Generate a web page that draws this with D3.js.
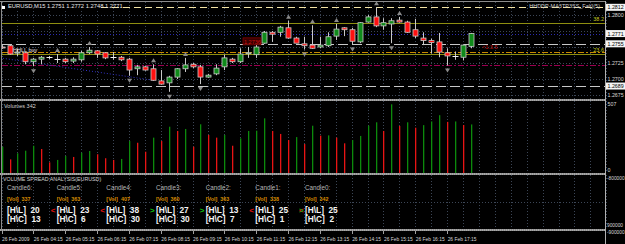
<!DOCTYPE html>
<html>
<head>
<meta charset="utf-8">
<script src="https://cdn.jsdelivr.net/npm/d3@7"></script>
<style>
body { margin: 0; background: #000; overflow: hidden; }
svg text { font-family: "Liberation Sans", Arial, sans-serif; }
</style>
</head>
<body>
<div id="chart"></div>
<script>
// *********************************************
// DATA  (EURUSD M15, bars from 03:15 to 18:00)
// *********************************************
var firstBar = -1;
var barOpen = [1.2750,1.2752,1.2741,1.2741,1.2727,1.2731,1.2734,1.2731,1.2731,1.2728,1.2730,1.2741,1.2744,1.2741,1.2734,1.2734,1.2731,1.2716,1.2719,1.2716,1.2697,1.2694,1.2703,1.2716,1.2723,1.2719,1.2703,1.2708,1.2719,1.2731,1.2727,1.2740,1.2738,1.2756,1.2773,1.2773,1.2780,1.2764,1.2755,1.2753,1.2750,1.2752,1.2767,1.2780,1.2777,1.2758,1.2789,1.2797,1.2783,1.2786,1.2792,1.2789,1.2777,1.2764,1.2760,1.2758,1.2741,1.2736,1.2734,1.2751];
var barHigh = [1.2753,1.2753,1.2747,1.2742,1.2733,1.2736,1.2736,1.2739,1.2733,1.2734,1.2744,1.2750,1.2745,1.2742,1.2742,1.2736,1.2733,1.2722,1.2720,1.2723,1.2714,1.2705,1.2717,1.2733,1.2725,1.2722,1.2708,1.2723,1.2738,1.2733,1.2748,1.2750,1.2756,1.2775,1.2775,1.2783,1.2791,1.2766,1.2766,1.2784,1.2766,1.2773,1.2786,1.2781,1.2780,1.2789,1.2800,1.2812,1.2795,1.2795,1.2797,1.2791,1.2794,1.2773,1.2763,1.2772,1.2748,1.2743,1.2754,1.2772];
var barLow = [1.2747,1.2738,1.2736,1.2723,1.2720,1.2723,1.2731,1.2725,1.2725,1.2725,1.2727,1.2739,1.2733,1.2731,1.2730,1.2728,1.2705,1.2706,1.2713,1.2697,1.2691,1.2680,1.2700,1.2711,1.2717,1.2692,1.2702,1.2706,1.2714,1.2725,1.2725,1.2733,1.2733,1.2755,1.2758,1.2766,1.2763,1.2756,1.2746,1.2747,1.2748,1.2750,1.2761,1.2767,1.2754,1.2756,1.2788,1.2781,1.2777,1.2756,1.2788,1.2772,1.2764,1.2753,1.2740,1.2734,1.2721,1.2730,1.2729,1.2748];
var barClose = [1.2749,1.2739,1.2742,1.2727,1.2731,1.2734,1.2734,1.2731,1.2727,1.2731,1.2741,1.2745,1.2739,1.2733,1.2734,1.2730,1.2714,1.2719,1.2714,1.2698,1.2692,1.2703,1.2716,1.2722,1.2719,1.2703,1.2706,1.2717,1.2733,1.2727,1.2739,1.2741,1.2750,1.2773,1.2770,1.2781,1.2764,1.2756,1.2752,1.2748,1.2753,1.2766,1.2778,1.2777,1.2759,1.2788,1.2797,1.2783,1.2788,1.2791,1.2789,1.2773,1.2767,1.2760,1.2757,1.2742,1.2736,1.2736,1.2753,1.2771];
var barVolume = [185,96,139,157,192,169,75,92,120,113,143,155,132,104,92,99,225,213,150,249,225,326,296,310,185,343,268,249,268,192,244,296,298,385,296,275,232,253,204,333,263,265,249,209,232,261,333,357,296,484,331,357,319,337,363,407,360,363,338,342];

// bar indices carrying fractal arrows
var fractalUp = [6,10,18,22,35,38,41,46,49];
var fractalDown = [3,15,20,24,37,43,48,55];

// horizontal line objects on the price pane
var levelPrices = [1.2812, 1.2788, 1.2771, 1.2755, 1.2742, 1.2739, 1.2722, 1.2689];
var levelKinds  = ["hiline", "fib", "bid", "dash", "dashdot", "fib", "dashdot2", "dash"];
var fibPrices = [1.2788, 1.2739];
var fibLabels = ["38.2", "23.6"];

// dotted trend line (bar, price)
var trendBars = [-1.2, 18.1];
var trendPrices = [1.2733, 1.2698];

// price axis
var gridPrices = [1.2800, 1.2775, 1.2750, 1.2725, 1.2700, 1.2675];
var axisPrices = [1.2800, 1.2725, 1.2700, 1.2675];
var boxedPrices = [1.2812, 1.2771, 1.2755, 1.2689];

// time axis
var timeBars = [-1,3,7,11,15,19,23,27,31,35,39,43,47,51,55];
var timeLabels = ["26 Feb 2009","26 Feb 04:15","26 Feb 05:15","26 Feb 06:15","26 Feb 07:15","26 Feb 08:15","26 Feb 09:15","26 Feb 10:15","26 Feb 11:15","26 Feb 12:15","26 Feb 13:15","26 Feb 14:15","26 Feb 15:15","26 Feb 16:15","26 Feb 17:15"];

// volume spread analysis table
var vsaCandles = ["Candle6:","Candle5:","Candle4:","Candle3:","Candle2:","Candle1:","Candle0:"];
var vsaVol = [337, 363, 407, 360, 363, 338, 342];
var vsaHL = [20, 23, 38, 27, 13, 25, 25];
var vsaHC = [13, 6, 30, 30, 7, 1, 2];
var vsaSign = ["", "<", "<", ">", ">", "<", "x"];

var volumeMax = 507;
var vsaAxis = ["-800000", "900000", "-900000"];

// *********************************************
// SETUP
// *********************************************
var width = 625, height = 244;
var left = 2, right = 605;
var pane = {
  main: {top: 2, bottom: 99},
  vol: {top: 101, bottom: 173},
  vsa: {top: 175, bottom: 229}
};

var svg = d3.select("#chart").append("svg")
    .attr("width", width)
    .attr("height", height)
    .style("background", "#000");

var x = d3.scaleLinear().domain([0, 58]).range([9.5, 471]);
var y = d3.scaleLinear().domain([1.27, 1.28]).range([79, 15]);
var yVol = d3.scaleLinear().domain([0, volumeMax]).range([pane.vol.bottom, pane.vol.top]);

var bars = d3.range(barOpen.length).map(function(i) {
  return {i: i + firstBar, o: barOpen[i], h: barHigh[i], l: barLow[i], c: barClose[i],
          v: barVolume[i], vUp: i === 0 || barVolume[i] > barVolume[i - 1]};
});
var byIndex = {};
bars.forEach(function(d) { byIndex[d.i] = d; });

var defs = svg.append("defs");
["main", "vol", "vsa"].forEach(function(k) {
  defs.append("clipPath").attr("id", "clip-" + k).append("rect")
    .attr("x", left).attr("y", pane[k].top)
    .attr("width", right - left).attr("height", pane[k].bottom - pane[k].top);
});

// *********************************************
// GRID
// *********************************************
var gridColor = "#3c4656";
var gridBars = d3.range(-1, 76, 2);

function drawVGrid(k) {
  svg.append("g").selectAll("line").data(gridBars).enter().append("line")
    .attr("x1", function(d) { return Math.round(x(d)) + 0.5; })
    .attr("x2", function(d) { return Math.round(x(d)) + 0.5; })
    .attr("y1", pane[k].top).attr("y2", pane[k].bottom)
    .attr("stroke", gridColor).attr("stroke-dasharray", "1,2");
}
drawVGrid("main"); drawVGrid("vol"); drawVGrid("vsa");

svg.append("g").selectAll("line").data(gridPrices).enter().append("line")
  .attr("x1", left).attr("x2", right)
  .attr("y1", function(d) { return Math.round(y(d)) + 0.5; })
  .attr("y2", function(d) { return Math.round(y(d)) + 0.5; })
  .attr("stroke", gridColor).attr("stroke-dasharray", "1,2");

svg.append("line").attr("x1", left).attr("x2", right)
  .attr("y1", 202.5).attr("y2", 202.5)
  .attr("stroke", gridColor).attr("stroke-dasharray", "1,2");

// *********************************************
// PRICE PANE
// *********************************************
var main = svg.append("g").attr("clip-path", "url(#clip-main)");

var levelStyle = {
  hiline:   {stroke: "#f3e3a4", dash: "7,4"},
  fib:      {stroke: "#8f8f10", dash: null},
  bid:      {stroke: "#2a2ab0", dash: "1,2"},
  dash:     {stroke: "#c8c8c8", dash: "10,4"},
  dashdot:  {stroke: "#c98a00", dash: "6,2,2,2"},
  dashdot2: {stroke: "#9a0050", dash: "6,2,2,2"}
};

main.append("g").selectAll("line").data(levelPrices).enter().append("line")
  .attr("x1", left).attr("x2", right)
  .attr("y1", function(d) { return Math.round(y(d)) + 0.5; })
  .attr("y2", function(d) { return Math.round(y(d)) + 0.5; })
  .attr("stroke", function(d, i) { return levelStyle[levelKinds[i]].stroke; })
  .attr("stroke-dasharray", function(d, i) { return levelStyle[levelKinds[i]].dash; });

main.append("g").selectAll("text").data(fibPrices).enter().append("text")
  .attr("x", 604).attr("y", function(d) { return y(d) - 2; })
  .attr("text-anchor", "end").attr("font-size", 5.5).attr("fill", "#c8c820")
  .text(function(d, i) { return fibLabels[i]; });

// trend line
main.append("line")
  .attr("x1", x(trendBars[0])).attr("y1", y(trendPrices[0]))
  .attr("x2", x(trendBars[1])).attr("y2", y(trendPrices[1]))
  .attr("stroke", "#3333c8").attr("stroke-dasharray", "1,2");

// candles
var wickColor = "#c8c8c8";
var candle = main.append("g").selectAll("g").data(bars).enter().append("g");

candle.append("line")
  .attr("x1", function(d) { return Math.round(x(d.i)) + 0.5; })
  .attr("x2", function(d) { return Math.round(x(d.i)) + 0.5; })
  .attr("y1", function(d) { return y(d.h); })
  .attr("y2", function(d) { return y(d.l); })
  .attr("stroke", wickColor);

candle.filter(function(d) { return d.o !== d.c; }).append("rect")
  .attr("x", function(d) { return Math.round(x(d.i)) - 2; })
  .attr("width", 5)
  .attr("y", function(d) { return y(Math.max(d.o, d.c)); })
  .attr("height", function(d) { return Math.max(1, y(Math.min(d.o, d.c)) - y(Math.max(d.o, d.c))); })
  .attr("fill", function(d) { return d.c > d.o ? "#0f8a1a" : "#ff1010"; })
  .attr("stroke", wickColor).attr("stroke-width", 0.8);

candle.filter(function(d) { return d.o === d.c; }).append("line")
  .attr("x1", function(d) { return Math.round(x(d.i)) - 2.5; })
  .attr("x2", function(d) { return Math.round(x(d.i)) + 3.5; })
  .attr("y1", function(d) { return Math.round(y(d.c)) + 0.5; })
  .attr("y2", function(d) { return Math.round(y(d.c)) + 0.5; })
  .attr("stroke", "#f0f0f0");

// fractal arrows
function arrow(cx, cy, up) {
  return up ? "M" + (cx - 2.5) + "," + (cy + 2) + "L" + cx + "," + (cy - 2) + "L" + (cx + 2.5) + "," + (cy + 2) + "Z"
            : "M" + (cx - 2.5) + "," + (cy - 2) + "L" + cx + "," + (cy + 2) + "L" + (cx + 2.5) + "," + (cy - 2) + "Z";
}
main.append("g").selectAll("path.up").data(fractalUp).enter().append("path")
  .attr("d", function(d) { return arrow(Math.round(x(d)) + 0.5, y(byIndex[d].h) - 4, true); })
  .attr("fill", "#8a8a8a");
main.append("g").selectAll("path.dn").data(fractalDown).enter().append("path")
  .attr("d", function(d) { return arrow(Math.round(x(d)) + 0.5, y(byIndex[d].l) + 5, false); })
  .attr("fill", "#8a8a8a");

// chart object labels
main.append("text").attr("x", 13).attr("y", y(1.2745) + 2)
  .attr("font-size", 5.5).attr("fill", "#e0e0e0").text("HHLL buy");
main.append("rect").attr("x", 243).attr("y", y(1.2758) - 4).attr("width", 18).attr("height", 7)
  .attr("fill", "#3a0000").attr("stroke", "#a00000").attr("stroke-width", 0.6);
main.append("text").attr("x", 244).attr("y", y(1.2758) + 2)
  .attr("font-size", 5.5).attr("fill", "#d01010").text("1.2736");
main.append("text").attr("x", 482).attr("y", y(1.2750) + 2)
  .attr("font-size", 5.5).attr("fill", "#c01010").text("<1:3.5");

// title
svg.append("rect").attr("x", 3).attr("y", 2).attr("width", 95).attr("height", 7).attr("fill", "#000");
svg.append("text").attr("x", 8).attr("y", 7.5).attr("font-size", 5.8).attr("fill", "#e8e8e8")
  .text("EURUSD,M15  1.2751 1.2772 1.2748 1.2771");
svg.append("rect").attr("x", 2).attr("y", 6).attr("width", 3).attr("height", 3).attr("fill", "#fff");
svg.append("text").attr("x", 600).attr("y", 7.5).attr("text-anchor", "end")
  .attr("font-size", 5.5).attr("fill", "#d0d0d0").text("HHDDP-MA3TP3SS_Fal(|(5)");

// *********************************************
// VOLUME PANE
// *********************************************
var vol = svg.append("g").attr("clip-path", "url(#clip-vol)");
vol.selectAll("rect").data(bars).enter().append("rect")
  .attr("x", function(d) { return Math.round(x(d.i)); })
  .attr("width", 1.3)
  .attr("y", function(d) { return yVol(d.v); })
  .attr("height", function(d) { return yVol(0) - yVol(d.v); })
  .attr("fill", function(d) { return d.vUp ? "#0c8a0c" : "#e81414"; });

svg.append("text").attr("x", 4).attr("y", 108).attr("font-size", 5.5)
  .attr("fill", "#d0d0d0").text("Volumes " + barVolume[barVolume.length - 1]);

// *********************************************
// VSA PANE
// *********************************************
svg.append("text").attr("x", 3).attr("y", 181).attr("font-size", 5.3)
  .attr("fill", "#d0d0d0").text("VOLUME SPREAD ANALYSIS(EURUSD)");

var colX = d3.scaleLinear().domain([0, 6]).range([7, 305]);
var col = svg.append("g").selectAll("g").data(vsaCandles).enter().append("g")
  .attr("transform", function(d, i) { return "translate(" + colX(i) + ",0)"; });

col.append("text").attr("y", 190).attr("font-size", 6.3).attr("fill", "#b8b8b8")
  .text(function(d) { return d; });
col.append("text").attr("y", 201).attr("font-size", 5.4).attr("font-weight", "bold")
  .attr("fill", "#d98c00").attr("xml:space", "preserve")
  .text(function(d, i) { return "[Vol]  " + vsaVol[i]; });
col.append("text").attr("y", 213).attr("font-size", 8.3).attr("font-weight", "bold")
  .attr("fill", "#f4f4f4").attr("xml:space", "preserve")
  .text(function(d, i) { return "[H\\L]  " + vsaHL[i]; });
col.append("text").attr("y", 222).attr("font-size", 8.3).attr("font-weight", "bold")
  .attr("fill", "#f4f4f4").attr("xml:space", "preserve")
  .text(function(d, i) { return "[H\\C]  " + vsaHC[i]; });
col.append("text").attr("x", -6).attr("y", 213).attr("font-size", 8).attr("font-weight", "bold")
  .attr("fill", function(d, i) { return vsaSign[i] === ">" ? "#10c010" : "#e01010"; })
  .text(function(d, i) { return vsaSign[i] === "x" ? "<" : vsaSign[i]; });
col.filter(function(d, i) { return vsaSign[i] === "x"; }).append("text")
  .attr("x", -6).attr("y", 213).attr("font-size", 8).attr("font-weight", "bold")
  .attr("fill", "#10c010").attr("opacity", 0.8).text(">");

// *********************************************
// FRAMES, SEPARATORS AND AXES
// *********************************************
function band(yy) {
  svg.append("rect").attr("x", 0).attr("y", yy).attr("width", right + 1).attr("height", 2).attr("fill", "#8c8c8c");
  svg.append("line").attr("x1", 0).attr("x2", right + 1).attr("y1", yy + 1).attr("y2", yy + 1)
    .attr("stroke", "#c4c4c4").attr("stroke-dasharray", "1,1");
}
band(99); band(173); band(229);
svg.append("line").attr("x1", 0).attr("x2", right).attr("y1", 1.5).attr("y2", 1.5).attr("stroke", "#8c8c8c");
svg.append("line").attr("x1", 1.5).attr("x2", 1.5).attr("y1", 1).attr("y2", 231).attr("stroke", "#8c8c8c");
svg.append("line").attr("x1", right + 0.5).attr("x2", right + 0.5).attr("y1", 1).attr("y2", 244).attr("stroke", "#b0b0b0");

var axisFont = 5.3;
svg.append("g").selectAll("text").data(axisPrices).enter().append("text")
  .attr("x", 607.5).attr("y", function(d) { return y(d) + 2; })
  .attr("font-size", axisFont).attr("fill", "#d8d8d8")
  .text(function(d) { return d.toFixed(4); });

var boxed = svg.append("g").selectAll("g").data(boxedPrices).enter().append("g");
boxed.append("rect").attr("x", 606).attr("width", 19)
  .attr("y", function(d) { return y(d) - 3.5; }).attr("height", 7).attr("fill", "#f4f4f4");
boxed.append("text").attr("x", 607.5).attr("y", function(d) { return y(d) + 2; })
  .attr("font-size", axisFont).attr("fill", "#000")
  .text(function(d) { return d.toFixed(4); });

svg.append("text").attr("x", 607.5).attr("y", 106).attr("font-size", axisFont).attr("fill", "#d8d8d8").text(volumeMax);
svg.append("text").attr("x", 607.5).attr("y", 172).attr("font-size", axisFont).attr("fill", "#d8d8d8").text("0");
svg.append("g").selectAll("text").data(vsaAxis).enter().append("text")
  .attr("x", 607).attr("y", function(d, i) { return [180, 227, 234][i]; })
  .attr("font-size", 4.8).attr("fill", "#d8d8d8")
  .text(function(d) { return d; });

// time axis
svg.append("g").selectAll("line").data(timeBars).enter().append("line")
  .attr("x1", function(d) { return Math.round(x(d)) + 0.5; })
  .attr("x2", function(d) { return Math.round(x(d)) + 0.5; })
  .attr("y1", 231).attr("y2", 234).attr("stroke", "#a0a0a0");
svg.append("g").selectAll("text").data(timeBars).enter().append("text")
  .attr("x", function(d) { return x(d) + 0.5; }).attr("y", 240.5)
  .attr("font-size", 4.9).attr("fill", "#d8d8d8")
  .text(function(d, i) { return timeLabels[i]; });
</script>
</body>
</html>
